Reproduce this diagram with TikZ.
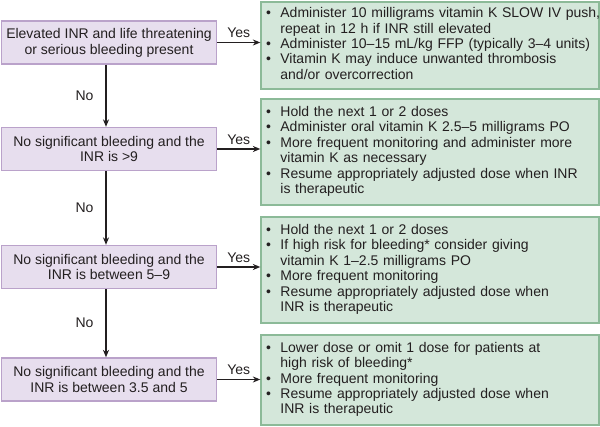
\documentclass[tikz,border=0pt]{standalone}
\usepackage{fontspec}
\setmainfont{Liberation Sans}
\usetikzlibrary{arrows.meta}
\definecolor{qfill}{RGB}{231,222,238}
\definecolor{qdraw}{RGB}{186,162,202}
\definecolor{afill}{RGB}{212,231,218}
\definecolor{adraw}{RGB}{140,186,152}
\definecolor{ink}{RGB}{35,31,32}
\newcommand{\blt}{\textbullet}
\begin{document}
\begin{tikzpicture}[x=1pt,y=-1pt,
  every node/.style={text=ink},
  qbox/.style={draw=qdraw, fill=qfill, line width=1.3pt, minimum width=215pt, minimum height=43pt,
    inner sep=0pt, align=center, font=\fontsize{14}{15.8}\selectfont},
  abox/.style={draw=adraw, fill=afill, line width=1.3pt, text width=338pt, inner xsep=0pt, inner ysep=0pt,
    align=left, font=\fontsize{14}{15.4}\selectfont},
  flow/.style={draw=ink, line width=1.2pt, -{Stealth[length=7.5pt,width=6pt]}},
  lbl/.style={inner sep=0pt, font=\fontsize{14}{15.5}\selectfont}
]
\useasboundingbox (0,0) rectangle (600,427);

\node[qbox] (q1) at (109,42.5) {Elevated INR and life threatening\\or serious bleeding present};
\node[qbox] (q2) at (109,149) {No significant bleeding and the\\INR is >9};
\node[qbox] (q3) at (109,267) {No significant bleeding and the\\INR is between 5–9};
\node[qbox] (q4) at (109,379.5) {No significant bleeding and the\\INR is between 3.5 and 5};

\node[abox, minimum height=87pt] (a1) at (430,45.5) {%
\begin{tabular}{@{\hspace{5pt}}l@{\hspace{9.5pt}}l@{}}
\blt & Administer 10 milligrams vitamin K SLOW IV push,\\
     & repeat in 12 h if INR still elevated\\
\blt & Administer 10–15 mL/kg FFP (typically 3–4 units)\\
\blt & Vitamin K may induce unwanted thrombosis\\
     & and/or overcorrection
\end{tabular}};
\node[abox, minimum height=106pt] (a2) at (430,152) {%
\begin{tabular}{@{\hspace{5pt}}l@{\hspace{9.5pt}}l@{}}
\blt & Hold the next 1 or 2 doses\\
\blt & Administer oral vitamin K 2.5–5 milligrams PO\\
\blt & More frequent monitoring and administer more\\
     & vitamin K as necessary\\
\blt & Resume appropriately adjusted dose when INR\\
     & is therapeutic
\end{tabular}};
\node[abox, minimum height=106pt] (a3) at (430,270) {%
\begin{tabular}{@{\hspace{5pt}}l@{\hspace{9.5pt}}l@{}}
\blt & Hold the next 1 or 2 doses\\
\blt & If high risk for bleeding* consider giving\\
     & vitamin K 1–2.5 milligrams PO\\
\blt & More frequent monitoring\\
\blt & Resume appropriately adjusted dose when\\
     & INR is therapeutic
\end{tabular}};
\node[abox, minimum height=90pt] (a4) at (430,380) {%
\begin{tabular}{@{\hspace{5pt}}l@{\hspace{9.5pt}}l@{}}
\blt & Lower dose or omit 1 dose for patients at\\
     & high risk of bleeding*\\
\blt & More frequent monitoring\\
\blt & Resume appropriately adjusted dose when\\
     & INR is therapeutic
\end{tabular}};

\foreach \i in {1,2,3,4}{
  \draw[flow] (q\i.east) -- (q\i.east -| a\i.west) node[lbl, midway, above=4pt] {Yes};
}
\foreach \i/\j in {1/2,2/3,3/4}{
  \draw[flow] ([xshift=-3pt]q\i.south) -- ([xshift=-3pt]q\j.north) node[lbl, midway, left=12pt] {No};
}
\end{tikzpicture}
\end{document}
